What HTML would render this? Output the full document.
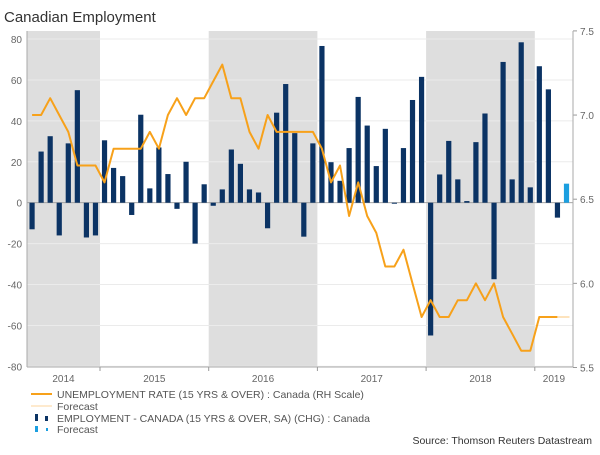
<!DOCTYPE html>
<html><head><meta charset="utf-8"><style>
body{margin:0;background:#fff;font-family:"Liberation Sans",Arial,sans-serif;}
svg text{font-family:"Liberation Sans",Arial,sans-serif;}
</style></head><body>
<svg id="chart" width="600" height="450" xmlns="http://www.w3.org/2000/svg">
<text x="4" y="22" font-size="15" fill="#333">Canadian Employment</text>
<g id="bg"></g><g id="grid"></g><g id="bars"></g><g id="lines"></g><g id="axes"></g>
<g font-size="10.5" fill="#555">
<line x1="31" y1="394" x2="52" y2="394" stroke="#f7a11a" stroke-width="2"/>
<text x="57" y="398">UNEMPLOYMENT RATE (15 YRS &amp; OVER) : Canada (RH Scale)</text>
<line x1="31" y1="406" x2="52" y2="406" stroke="#fde3bd" stroke-width="1.5"/>
<text x="57" y="410">Forecast</text>
<rect x="35" y="414" width="3" height="7" fill="#0b3364"/><rect x="45" y="416" width="3" height="5" fill="#0b3364"/>
<text x="57" y="422">EMPLOYMENT - CANADA (15 YRS &amp; OVER, SA) (CHG) : Canada</text>
<rect x="35" y="426" width="3" height="6" fill="#1b9fe0"/><rect x="46" y="428" width="2" height="3" fill="#1b9fe0"/>
<text x="57" y="433">Forecast</text>
</g>
<text x="592" y="444" font-size="10.5" fill="#333" text-anchor="end">Source: Thomson Reuters Datastream</text>
</svg>
<script>
const years=["2014","2015","2016","2017","2018","2019"];
const leftTicks=[80,60,40,20,0,-20,-40,-60,-80];
const rightTicks=["7.5","7.0","6.5","6.0","5.5"];
const employment=[-13,25,32.5,-16,29,55,-17,-16,
30.5,17,13,-6,43,7,27,14,-3,20,-20,9,
-1.5,6.5,26,19,6.5,5,-12.5,44,58,34,-16.6,29,
76.6,19.8,10.7,26.7,51.7,37.7,17.9,36.1,-0.5,26.7,50.2,61.5,
-64.9,13.8,30.2,11.4,0.8,29.6,43.6,-37.4,68.8,11.4,78.4,7.5,
66.7,55.4,-7.3,9.3];
const unemployment=[7.0,7.0,7.1,7.0,6.9,6.7,6.7,6.7,
6.6,6.8,6.8,6.8,6.8,6.9,6.8,7.0,7.1,7.0,7.1,7.1,
7.2,7.3,7.1,7.1,6.9,6.8,7.0,6.9,6.9,6.9,6.9,6.9,
6.8,6.6,6.7,6.4,6.6,6.4,6.3,6.1,6.1,6.2,6.0,5.8,
5.9,5.8,5.8,5.9,5.9,6.0,5.9,6.0,5.8,5.7,5.6,5.6,
5.8,5.8,5.8,5.8];
const forecastIndex=59;
const X0=27,X1=573,firstMonth=4;// May 2014
const MW=108.7/12;
const yearStartX=y=>100+(y-1)*108.7; // year index 1 = 2015
const xM=i=>100-108.7*8/12+MW*(i+0.5);
const yL=v=>202.7-2.046*v;
const yR=r=>199.2-168.3*(r-6.5);
const NS="http://www.w3.org/2000/svg";
function mk(tag,attrs,parent){const e=document.createElementNS(NS,tag);for(const k in attrs)e.setAttribute(k,attrs[k]);document.getElementById(parent).appendChild(e);return e;}
// shading
[0,2,4].forEach(yi=>{
 const a=Math.max(X0,yearStartX(yi)),b=Math.min(X1,yearStartX(yi+1));
 const r=mk('rect',{x:a,y:31,width:b-a,height:336,fill:'#dedede'},'bg');
 
 
});
// grid
leftTicks.forEach(t=>{
 const g=mk('line',{x1:X0,x2:X1,y1:yL(t),y2:yL(t),stroke:t===0?'#999':'#ebebeb','stroke-width':t===0?0.8:1},'grid');
 
 
 const tx=mk('text',{x:22,y:yL(t)+4,'font-size':10,fill:'#666','text-anchor':'end'},'axes');tx.textContent=t;
 
 
});
rightTicks.forEach(t=>{
 const y=yR(parseFloat(t));
 mk('line',{x1:X1,x2:X1+4,y1:y,y2:y,stroke:'#999'},'axes');
 const tx=mk('text',{x:580,y:y+4,'font-size':10,fill:'#666'},'axes');tx.textContent=t;
 
 
});
mk('line',{x1:X0,x2:X0,y1:31,y2:367,stroke:'#aaa'},'axes');
mk('line',{x1:X1,x2:X1,y1:31,y2:367,stroke:'#aaa'},'axes');
mk('line',{x1:X0,x2:X1,y1:367,y2:367,stroke:'#aaa'},'axes');
years.forEach((yr,yi)=>{
 const a=Math.max(X0,yearStartX(yi)),b=Math.min(X1,yearStartX(yi+1));
 if(yi>0)mk('line',{x1:a,x2:a,y1:367,y2:371,stroke:'#999'},'axes');
 const tx=mk('text',{x:(a+b)/2,y:382,'font-size':10,fill:'#666','text-anchor':'middle'},'axes');tx.textContent=yr;
 
 
});
// bars
employment.forEach((v,i)=>{
 const y0=yL(0),y1=yL(v);
 const r=mk('rect',{x:xM(i)-2.6,y:Math.min(y0,y1),width:5.2,height:Math.max(0.8,Math.abs(y1-y0)),fill:i===forecastIndex?'#1b9fe0':'#0b3364'},'bars');
 
 
});
// line
let d='';
for(let i=0;i<forecastIndex;i++)d+=(i?'L':'M')+xM(i).toFixed(1)+','+yR(unemployment[i]).toFixed(1);
const p=mk('path',{d:d,fill:'none',stroke:'#f7a11a','stroke-width':2,'stroke-linejoin':'round'},'lines');


const f=mk('line',{x1:xM(forecastIndex-1),y1:yR(unemployment[forecastIndex-1]),x2:xM(forecastIndex)+3,y2:yR(unemployment[forecastIndex]),stroke:'#fde3bd','stroke-width':2},'lines');


</script>
</body></html>
